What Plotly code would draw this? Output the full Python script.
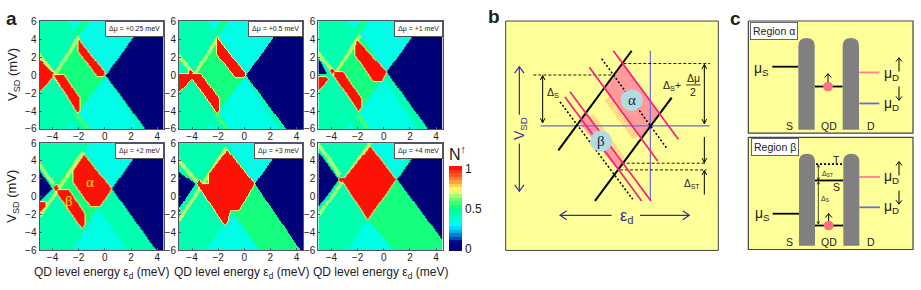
import numpy as np
import plotly.graph_objects as go
from plotly.colors import sample_colorscale

# ---------- panel a: regions (value, polygon in (eps, V)) ----------
FULL = [(-5.2, 6.2), (4.7, 6.2), (4.7, -6.2), (-5.2, -6.2)]
CYAN, GL, GC, LIME, YEL = 0.36, 0.44, 0.50, 0.66, 0.72

P_025 = [
    (GL, FULL),
    (CYAN, [(-2.9, 6.2), (-1.85, 6.2), (-2.36, 5)]),
    (CYAN, [(-1.1, 6.2), (3.15, 6.2), (0, 0), (-2.1, 4.47)]),
    (CYAN, [(0, -0.05), (2.85, -6.2), (-1.0, -6.2), (-2.1, -4.2)]),
    (CYAN, [(-3.05, -6.2), (-2.15, -6.2), (-2.6, -5.2)]),
    (GC, [(-4.05, 0), (-2.1, 4.47), (0, 0), (-2.1, -4.2)]),
    (GC, [(-2.1, 4.47), (-1.1, 6.2), (-1.5, 6.2), (-2.3, 4.8)]),
    (0.55, [(-2.1, -4.2), (-1.0, -6.2), (-1.4, -6.2), (-2.4, -4.4)]),
    (LIME, [(-4.05, 0), (-2.1, 4.47), (-1.9, 4.1), (-3.75, 0)]),
    (LIME, [(-5, 1.9), (-4.05, 0), (-3.8, 0.3), (-5, 2.5)]),
    (YEL, [(-4.05, 0), (-2.1, -4.2), (-1.9, -3.9), (-3.8, 0)]),
    (0, [(0.05, 0), (3.15, 6.2), (4.7, 6.2), (4.7, -6.2), (3.2, -6.2)]),
    (1, [(-2.04, 3.94), (0, 0.28), (-0.15, -0.1), (-0.6, -0.1), (-2.04, 2.7)]),
    (1, [(-3.93, 0.03), (-3.16, 0.03), (-1.94, -2.6), (-1.94, -3.87), (-2.14, -4.05)]),
    (1, [(-5.2, 2.1), (-4.18, 0.46), (-3.98, 0.39), (-4.05, -0.2), (-5.2, -2.1)]),
]
P_050 = [
    (GL, FULL),
    (CYAN, [(-2.9, 6.2), (-1.85, 6.2), (-2.36, 5)]),
    (CYAN, [(-1.1, 6.2), (3.2, 6.2), (0.05, 0), (-2.1, 4.47)]),
    (CYAN, [(0, -0.1), (2.8, -6.2), (-1.0, -6.2), (-2.1, -4.2)]),
    (CYAN, [(-3.05, -6.2), (-2.15, -6.2), (-2.6, -5.2)]),
    (GC, [(-4.05, 0), (-2.1, 4.47), (0.05, 0), (-2.1, -4.2)]),
    (GC, [(-2.1, 4.47), (-1.1, 6.2), (-1.5, 6.2), (-2.3, 4.8)]),
    (0.55, [(-2.1, -4.2), (-1.0, -6.2), (-1.4, -6.2), (-2.4, -4.4)]),
    (LIME, [(-4.05, 0), (-2.1, 4.47), (-1.9, 4.1), (-3.75, 0)]),
    (LIME, [(-5.2, 2.1), (-4.05, 0), (-3.85, 0.3), (-5.2, 2.8)]),
    (0, [(0.1, 0), (3.2, 6.2), (4.7, 6.2), (4.7, -6.2), (3.3, -6.2)]),
    (1, [(-2.1, 4.1), (0.05, 0.2), (-0.05, -0.2), (-0.7, -0.2), (-2.1, 2.3)]),
    (1, [(-5.2, 0.2), (-3.4, 0.2), (-1.96, -2.6), (-1.96, -3.7), (-2.1, -4.15), (-4.03, -0.3), (-5.2, -2.1)]),
    (1, [(-4.3, 0.3), (-4.15, 0.6), (-3.97, 0.3), (-4.15, 0)]),
]
P_100 = [
    (GL, FULL),
    (CYAN, [(-2.9, 6.2), (-1.8, 6.2), (-2.3, 5.2)]),
    (CYAN, [(-1.05, 6.2), (3.1, 6.2), (0.18, 0.39), (-1.94, 4.64)]),
    (CYAN, [(0, -0.3), (2.65, -6.2), (-1.0, -6.2), (-1.94, -4.1)]),
    (CYAN, [(-3.05, -6.2), (-2.2, -6.2), (-2.6, -5.3)]),
    (GC, [(-3.98, 0.2), (-1.94, 4.64), (0.18, 0.39), (-1.94, -4.1)]),
    (GC, [(-1.94, 4.64), (-1.05, 6.2), (-1.4, 6.2), (-2.15, 5)]),
    (0.55, [(-1.94, -4.1), (-0.95, -6.2), (-1.35, -6.2), (-2.25, -4.3)]),
    (LIME, [(-3.98, 0), (-1.94, 4.64), (-1.74, 4.25), (-3.7, 0)]),
    (LIME, [(-5.2, 2.3), (-4, 0.3), (-3.8, 0.6), (-5.2, 3.1)]),
    (0, [(0.2, 0.4), (3.15, 6.2), (4.7, 6.2), (4.7, -6.2), (3.5, -6.2)]),
    (0, [(-5.2, 2.4), (-4.36, 0.14), (-5.2, 0.14)]),
    (1, [(-2.07, 3.94), (0.18, 0.39), (-0.15, -0.57), (-0.84, -0.57), (-2.19, 2.3), (-2.19, 3.2)]),
    (1, [(-3.85, 0.39), (-3.14, 0.39), (-1.73, -2.6), (-1.73, -3.5), (-1.94, -3.9), (-3.85, 0)]),
    (1, [(-4.15, 0.46), (-3.98, 0.75), (-3.8, 0.46), (-3.98, 0.15)]),
    (1, [(-5.2, -0.2), (-4.44, -0.2), (-4.28, -0.43), (-5.2, -2.0)]),
]
P_200 = [
    (GL, FULL),
    (CYAN, [(-1.1, 6.2), (3.1, 6.2), (0.48, 0.96), (-1.6, 5.1)]),
    (CYAN, [(-0.61, -1.18), (1.8, -6.2), (-2.55, -6.2)]),
    (0.42, [(-5.2, -2.0), (-2.9, -6.2), (-5.2, -6.2)]),
    (GC, [(-4.05, 0.96), (-1.76, 5.3), (0.48, 0.96), (-0.6, -1.18), (-1.75, -3.6)]),
    (LIME, [(-5.2, -2.2), (-1.76, 5.3), (-1.5, 4.95), (-4.9, -2.2)]),
    (LIME, [(-5.2, 3.7), (-4.05, 1.3), (-3.85, 1.6), (-5.2, 4.3)]),
    (0, [(0.52, 0.96), (3.1, 6.2), (4.7, 6.2), (4.7, -6.2), (4.05, -6.2)]),
    (0, [(-5.2, 3.3), (-4.05, 0.96), (-5.2, -0.7)]),
    (1, [(-1.63, 4.71), (0.48, 0.96), (-0.41, -1), (-1.12, -1), (-2.45, 1.68), (-2.45, 2.93)]),
    (1, [(-3.62, 0.79), (-2.78, 0.79), (-1.56, -1.9), (-1.56, -3.04), (-1.76, -3.5), (-3.7, 0.5)]),
    (1, [(-3.95, 1.04), (-3.75, 1.4), (-3.55, 1.04), (-3.75, 0.65)]),
    (1, [(-5.2, -0.64), (-4.57, -0.64), (-4.57, -1), (-5.2, -2.0)]),
]
P_300 = [
    (GL, FULL),
    (CYAN, [(-1.1, 6.2), (3.1, 6.2), (0.74, 1.5), (-1.1, 5.4)]),
    (CYAN, [(-0.97, -1.7), (1.3, -6.2), (-3.14, -6.2)]),
    (0.42, [(-5.2, -2.6), (-3.4, -6.2), (-5.2, -6.2)]),
    (GC, [(-1.48, 5.78), (0.74, 1.5), (4.4, -6.2), (1.3, -6.2), (-0.97, -1.7), (-1.5, -3.1), (-3.6, 1.4)]),
    (LIME, [(-5.2, -2.6), (-1.48, 5.78), (-1.22, 5.4), (-4.9, -2.6)]),
    (LIME, [(-5.2, 4.0), (-3.75, 1.6), (-3.55, 1.95), (-5.2, 4.6)]),
    (0, [(0.78, 1.5), (3.1, 6.2), (4.7, 6.2), (4.7, -6.2), (4.4, -6.2)]),
    (0, [(-5.2, 3.0), (-3.78, 1.5), (-5.2, -1.6)]),
    (1, [(-1.35, 5.25), (0.74, 1.5), (-0.46, -1.46), (-1.1, -1.46), (-1.28, -2.25), (-1.35, -2.8),
         (-1.56, -3.04), (-3.4, 0.96), (-3.4, 1.43), (-2.76, 1.43), (-2.76, 2.57)]),
    (1, [(-3.67, 1.5), (-3.47, 1.85), (-3.27, 1.5), (-3.47, 1.15)]),
    (1, [(-5.2, -1.1), (-4.85, -1.5), (-5.2, -1.9)]),
]
P_400 = [
    (GL, FULL),
    (CYAN, [(-0.9, 6.2), (2.6, 6.2), (0.92, 1.96), (-0.9, 5.5)]),
    (CYAN, [(-1.25, -2.6), (1.0, -6.2), (-2.96, -6.2)]),
    (0.42, [(-5.2, -5.1), (-4.5, -6.2), (-5.2, -6.2)]),
    (GC, [(-1.17, 6), (0.92, 1.96), (4.7, -5.2), (4.7, -6.2), (1, -6.2), (-1.25, -2.6), (-3.27, 1.9)]),
    (LIME, [(-5.2, -2.1), (-1.17, 6.2), (-0.85, 6.2), (-4.9, -2.1)]),
    (LIME, [(-5.2, 6.0), (-3.5, 2.3), (-3.27, 2.65), (-5.2, 6.6)]),
    (0, [(1.0, 2), (3.1, 6.2), (4.7, 6.2), (4.7, -5.2)]),
    (0, [(-5.2, 5.4), (-3.45, 1.96), (-5.2, -1.4)]),
    (1, [(-1.05, 5.68), (0.92, 1.96), (-1.25, -2.43), (-3.2, 1.86)]),
    (1, [(-3.47, 1.96), (-3.27, 2.3), (-3.07, 1.96), (-3.27, 1.6)]),
]

PANELS = [P_025, P_050, P_100, P_200, P_300, P_400]
LABELS = ["Δμ = +0.25 meV", "Δμ = +0.5 meV", "Δμ = +1 meV", "Δμ = +2 meV", "Δμ = +3 meV", "Δμ = +4 meV"]
XTICKS = [-4, -2, 0, 2, 4]
YTICKS = [-6, -4, -2, 0, 2, 4, 6]
CB_TICKS = [0, 0.5, 1]
CB_TICKTEXT = ["0", "0.5", "1"]
COLOR_STOPS = [
    [0.00, "#000070"], [0.10, "#000090"], [0.16, "#0060c0"], [0.24, "#00c0f0"], [0.30, "#00f8ff"],
    [0.38, "#00ffd8"], [0.50, "#00ff80"], [0.60, "#60ff70"], [0.66, "#c0ff70"], [0.72, "#ffff70"],
    [0.80, "#ffb040"], [0.90, "#ff5020"], [1.00, "#ff0000"],
]

# ---------- panel b: schematic (drawing units: 3 per pixel) ----------
B_FRAME = [(47, 47), (685, 47), (685, 765), (47, 765), (47, 47)]
B_ALPHA_FILL = [(400, 180), (345, 260), (452, 412), (507, 335), (400, 180)]
B_BETA_FILL = [(268, 365), (290, 335), (400, 490), (385, 515), (268, 365)]
B_HATCH = [[(352, 290), (438, 412)], [(303, 345), (395, 480)]]
B_BLUE = [[(152, 375), (658, 375)], [(481, 140), (481, 610)]]
B_BLACK = [[(205, 452), (425, 140)], [(315, 610), (545, 287)]]
B_PINK = [[(370, 140), (565, 417)], [(298, 192), (503, 485)], [(225, 285), (455, 610)], [(240, 268), (483, 610)]]
B_DOT = [[(335, 165), (530, 445)], [(210, 300), (428, 605)]]
B_DASH = [[(130, 216), (365, 216)], [(400, 180), (660, 180)], [(395, 492), (650, 492)], [(390, 513), (650, 513)]]
B_FRACTION = [(588, 247), (632, 247)]

# ---------- panel c: schematic ----------
C_FRAMES = [[(55, 47), (549, 47), (549, 398), (55, 398), (55, 47)],
            [(55, 411), (549, 411), (549, 762), (55, 762), (55, 411)]]
C_BLACK = [[(127, 190), (205, 190)], [(254, 252), (338, 252)], [(128, 650), (207, 650)],
           [(255, 687), (340, 687)], [(255, 546), (340, 546)]]
C_DOT = [[(258, 495), (338, 495)]]
C_PINK = [[(388, 208), (448, 208)], [(388, 535), (450, 535)]]
C_BLUE = [[(388, 305), (448, 305)], [(388, 630), (450, 630)]]
C_BARS = [(205, 254, 100, 387), (338, 387, 100, 387), (207, 255, 462, 750), (340, 388, 462, 750)]
C_BALLS = [(294, 252), (296, 687)]

W, H = 921, 290
PANEL_X = [(39.5, 163.7), (179, 303), (318.3, 442.7)]
PANEL_Y = [(15.7, 128.3), (143, 255)]


def in_poly(X, Y, poly):
    p = np.array(poly, float)
    inside = np.zeros(X.shape, bool)
    for i in range(len(p)):
        x1, y1 = p[i]
        x2, y2 = p[(i + 1) % len(p)]
        cond = (y1 > Y) != (y2 > Y)
        with np.errstate(divide="ignore", invalid="ignore"):
            xi = (x2 - x1) * (Y - y1) / (y2 - y1) + x1
        inside ^= cond & (X < xi)
    return inside


xs = np.linspace(-5, 4.5, 125)
ys = np.linspace(-6, 6, 113)
GX, GY = np.meshgrid(xs, ys)


def raster(regions):
    z = np.zeros(GX.shape)
    for v, poly in regions:
        z[in_poly(GX, GY, poly)] = v
    red = z == 1
    halo = red.copy()
    halo[1:, :] |= red[:-1, :]
    halo[:-1, :] |= red[1:, :]
    halo[:, 1:] |= red[:, :-1]
    halo[:, :-1] |= red[:, 1:]
    z[halo & ~red] = 0.74
    return z


N_STEPS = 24
levels = [(i + 0.5) / N_STEPS for i in range(N_STEPS)]
cols = sample_colorscale(COLOR_STOPS, levels)
stepped = []
for i, c in enumerate(cols):
    stepped += [[i / N_STEPS, c], [(i + 1) / N_STEPS, c]]

fig = go.Figure()
anns, shapes = [], []
TXT = "#222222"
SANS = "Liberation Sans, Arial, sans-serif"
SERIF = "Liberation Serif, serif"


def T(x, y, text, size=11, color=TXT, angle=0, family=SANS, anchor="center", xr="paper", yr="paper", **kw):
    if xr == "paper":
        x, y = x / W, 1 - y / H
    anns.append(dict(x=x, y=y, xref=xr, yref=yr, text=text, showarrow=False, textangle=angle,
                     xanchor=anchor, yanchor="middle", font=dict(size=size, color=color, family=family), **kw))


layout = {}
for k in range(6):
    row, col = divmod(k, 3)
    suf = "" if k == 0 else str(k + 1)
    x0, x1 = PANEL_X[col]
    y0, y1 = PANEL_Y[row]
    fig.add_trace(go.Heatmap(x=xs, y=ys, z=raster(PANELS[k]), coloraxis="coloraxis", zsmooth="best",
                             xaxis="x" + suf, yaxis="y" + suf, hoverinfo="skip"))
    common = dict(showline=True, mirror=True, linecolor="#55556a", linewidth=1, ticks="inside", ticklen=2,
                  tickcolor="#55556a", showgrid=False, zeroline=False,
                  tickfont=dict(size=10, color=TXT, family=SANS))
    layout["xaxis" + suf] = dict(domain=[x0 / W, x1 / W], range=[-5, 4.5], tickvals=XTICKS, anchor="y" + suf,
                                 ticklabelstandoff=-2, **common)
    layout["yaxis" + suf] = dict(domain=[1 - y1 / H, 1 - y0 / H], range=[-6, 6], tickvals=YTICKS, anchor="x" + suf, **common)
    anns.append(dict(x=1, y=1, xref=f"x{suf} domain", yref=f"y{suf} domain", xanchor="right", yanchor="top",
                     text=LABELS[k], showarrow=False, bgcolor="white", bordercolor="#555555", borderwidth=1,
                     borderpad=3, font=dict(size=7, color=TXT, family=SANS)))
    if row == 1:
        T((x0 + x1) / 2, 279, "QD level energy ε<sub>d</sub> (meV)", size=12)
    if col == 0:
        T(13, (y0 + y1) / 2, "V<sub>SD</sub> (mV)", size=13, angle=-90)

T(-1.12, 1.68, "α", size=15, color="#ffe000", family=SERIF, xr="x4", yr="y4")
T(-2.75, -0.46, "β", size=15, color="#ffe000", family=SERIF, xr="x4", yr="y4")

T(11, 13, "<b>a</b>", size=19)
T(494, 11, "<b>b</b>", size=19)
T(735, 13, "<b>c</b>", size=19)
T(457, 153, "N<sup>↑</sup>", size=16)

layout["xaxis7"] = dict(domain=[490 / W, 730 / W], range=[0, 720], visible=False, fixedrange=True, anchor="y7")
layout["yaxis7"] = dict(domain=[0, 1], range=[870, 0], visible=False, fixedrange=True, anchor="x7")
layout["xaxis8"] = dict(domain=[730 / W, 1], range=[0, 573], visible=False, fixedrange=True, anchor="y8")
layout["yaxis8"] = dict(domain=[0, 1], range=[870, 0], visible=False, fixedrange=True, anchor="x8")


def L(pts, ax, color="black", width=1.0, dash="solid", fill=None):
    x, y = zip(*pts)
    fig.add_trace(go.Scatter(x=x, y=y, mode="lines", xaxis="x" + ax, yaxis="y" + ax, hoverinfo="skip",
                             showlegend=False, line=dict(color=color, width=width, dash=dash),
                             fill="toself" if fill else None, fillcolor=fill))


def head(p, q, ax, color, w, hl, hw):
    """Chevron at q for an axis-parallel arrow coming from p."""
    dx, dy = np.sign(q[0] - p[0]), np.sign(q[1] - p[1])
    a = (q[0] - dx * hl - dy * hw, q[1] - dy * hl - dx * hw)
    b = (q[0] - dx * hl + dy * hw, q[1] - dy * hl + dx * hw)
    L([a, q, b], ax, color=color, width=w)


def A(p, q, ax, color="black", both=False, w=1.0, hl=14, hw=7):
    L([p, q], ax, color=color, width=w)
    head(p, q, ax, color, w, hl, hw)
    if both:
        head(q, p, ax, color, w, hl, hw)


YELLOW = "#ffff99"
FRAME = "#444444"
PINK = "#ff1a80"
BLUE = "#6a6ad8"
NAVY = "#30309a"

# panel b
L(B_FRAME, "7", color=FRAME, width=1, fill=YELLOW)
L(B_ALPHA_FILL, "7", color="rgba(0,0,0,0)", width=0, fill="#ff9a9a")
L(B_BETA_FILL, "7", color="rgba(0,0,0,0)", width=0, fill="#ff9a9a")
for seg in B_HATCH:
    L(seg, "7", color="#ffb878", width=7, dash="1px,1px")
for seg in B_BLUE:
    L(seg, "7", color=BLUE, width=1.2)
for seg in B_DOT:
    L(seg, "7", color="black", width=1.5, dash="2px,2px")
for seg in B_DASH:
    L(seg, "7", color="black", width=0.9, dash="3px,2px")
for seg in B_BLACK:
    L(seg, "7", color="black", width=2)
for seg in B_PINK:
    L(seg, "7", color=PINK, width=1.7)
L(B_FRACTION, "7", color="black", width=0.8)
A((158, 218), (158, 365), "7", both=True)
A((643, 183), (643, 368), "7", both=True)
A((643, 410), (643, 490), "7")
A((643, 590), (643, 515), "7")
A((88, 340), (88, 190), "7", color=NAVY, w=1.2, hl=20, hw=14)
A((88, 430), (88, 580), "7", color=NAVY, w=1.2, hl=20, hw=14)
A((365, 655), (210, 655), "7", color=NAVY, w=1.2, hl=20, hw=14)
A((450, 655), (598, 655), "7", color=NAVY, w=1.2, hl=20, hw=14)
for cx, cy in [(425, 295), (333, 423)]:
    shapes.append(dict(type="circle", xref="x7", yref="y7", x0=cx - 33, x1=cx + 33, y0=cy - 33, y1=cy + 33,
                       fillcolor="#b0dde0", line=dict(width=0)))
T(425, 295, "α", size=15, color="#222244", family=SERIF, xr="x7", yr="y7")
T(333, 423, "β", size=15, color="#222244", family=SERIF, xr="x7", yr="y7")
T(190, 272, "Δ<sub>S</sub>", size=10.5, xr="x7", yr="y7")
T(546, 250, "Δ<sub>S</sub>+", size=10.5, xr="x7", yr="y7")
T(610, 225, "Δμ", size=10.5, xr="x7", yr="y7")
T(610, 270, "2", size=10.5, xr="x7", yr="y7")
T(605, 558, "Δ<sub>ST</sub>", size=10, xr="x7", yr="y7")
T(90, 385, "V<sub>SD</sub>", size=14, color=NAVY, angle=-90, xr="x7", yr="y7")
T(408, 660, "ε<sub>d</sub>", size=16, color=NAVY, xr="x7", yr="y7")

# panel c
for f in C_FRAMES:
    L(f, "8", color=FRAME, width=1.2, fill=YELLOW)
for xa, xb, yt, yb in C_BARS:
    r = (xb - xa) / 2
    shapes.append(dict(type="path", xref="x8", yref="y8", fillcolor="#808080", line=dict(width=0),
                       path=f"M {xa} {yb} L {xa} {yt + r} Q {xa} {yt} {xa + r} {yt} Q {xb} {yt} {xb} {yt + r} L {xb} {yb} Z"))
for seg in C_BLACK:
    L(seg, "8", color="black", width=1.8)
for seg in C_DOT:
    L(seg, "8", color="black", width=1.6, dash="2px,2px")
for seg in C_PINK:
    L(seg, "8", color="#ff7f95", width=1.8)
for seg in C_BLUE:
    L(seg, "8", color=BLUE, width=1.8)
for bx, by in C_BALLS:
    shapes.append(dict(type="circle", xref="x8", yref="y8", x0=bx - 15, x1=bx + 15, y0=by - 15, y1=by + 15,
                       fillcolor="#ff7080", line=dict(width=0)))
A((294, 240), (294, 212), "8", hl=12, hw=10)
A((296, 675), (296, 650), "8", hl=12, hw=10)
A((507, 205), (507, 162), "8", hl=12, hw=9)
A((507, 252), (507, 295), "8", hl=12, hw=9)
A((507, 530), (507, 487), "8", hl=12, hw=9)
A((507, 578), (507, 620), "8", hl=12, hw=9)
A((265, 497), (265, 545), "8", both=True, w=0.7, hl=8, hw=4)
A((265, 550), (265, 682), "8", both=True, w=0.7, hl=8, hw=4)
for (tx, ty, s) in [(178, 376, "S"), (297, 376, "QD"), (424, 376, "D"), (178, 738, "S"), (296, 738, "QD"),
                    (424, 738, "D"), (320, 482, "T"), (320, 565, "S")]:
    T(tx, ty, s, size=10.5, xr="x8", yr="y8")
for (tx, ty, s) in [(95, 197, "μ<sub>S</sub>"), (97, 652, "μ<sub>S</sub>"), (485, 212, "μ<sub>D</sub>"),
                    (485, 308, "μ<sub>D</sub>"), (485, 535, "μ<sub>D</sub>"), (485, 630, "μ<sub>D</sub>")]:
    T(tx, ty, s, size=14, xr="x8", yr="y8")
T(292, 525, "Δ<sub>ST</sub>", size=7, xr="x8", yr="y8")
T(285, 603, "Δ<sub>S</sub>", size=7, xr="x8", yr="y8")
anns.append(dict(x=133, y=78, xref="x8", yref="y8", text="Region α", showarrow=False, bgcolor="white",
                 bordercolor="#666666", borderwidth=1, borderpad=2, font=dict(size=10.5, color=TXT, family=SANS)))
anns.append(dict(x=135, y=442, xref="x8", yref="y8", text="Region β", showarrow=False, bgcolor="white",
                 bordercolor="#666666", borderwidth=1, borderpad=2, font=dict(size=10.5, color=TXT, family=SANS)))

fig.update_layout(
    width=W, height=H, margin=dict(l=0, r=0, t=0, b=0), paper_bgcolor="white", plot_bgcolor="white",
    showlegend=False, annotations=anns, shapes=shapes,
    coloraxis=dict(colorscale=stepped, cmin=-0.03, cmax=1.03,
                   colorbar=dict(x=449.3 / W, xanchor="left", y=1 - 255.7 / H, yanchor="bottom", len=89 / H,
                                 thickness=12.7, xpad=0, ypad=0, outlinewidth=0, ticks="",
                                 tickvals=CB_TICKS, ticktext=CB_TICKTEXT,
                                 tickfont=dict(size=12, color=TXT, family=SANS))),
    **layout,
)
fig.write_html("out.html", post_script="document.body.style.margin='0';", config={"displayModeBar": False})
